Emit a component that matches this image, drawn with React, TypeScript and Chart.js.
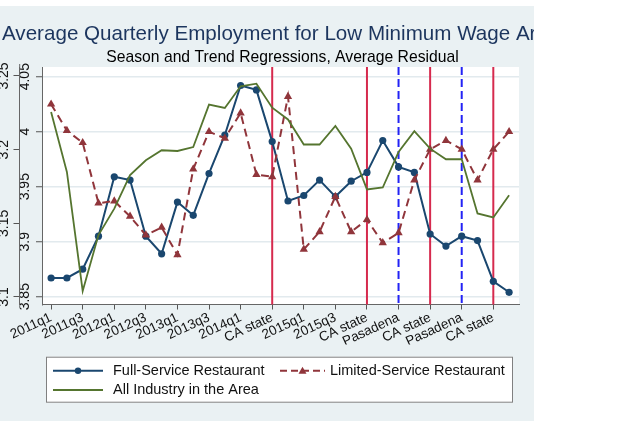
import React, { useEffect, useRef } from 'react';
import { Chart, registerables } from 'chart.js';

Chart.register(...registerables);

// ---------- data ----------
const quarters = [
  '2011q1', '2011q2', '2011q3', '2011q4',
  '2012q1', '2012q2', '2012q3', '2012q4',
  '2013q1', '2013q2', '2013q3', '2013q4',
  '2014q1', '2014q2', '2014q3', '2014q4',
  '2015q1', '2015q2', '2015q3', '2015q4',
  '2016q1', '2016q2', '2016q3', '2016q4',
  '2017q1', '2017q2', '2017q3', '2017q4',
  '2018q1', '2018q2',
];

const fullService = [
  3.867, 3.867, 3.875, 3.905, 3.959, 3.956, 3.905, 3.889, 3.936, 3.924,
  3.962, 3.997, 4.042, 4.038, 3.991, 3.937, 3.942, 3.956, 3.941, 3.955,
  3.963, 3.992, 3.968, 3.963, 3.907, 3.896, 3.905, 3.901, 3.864, 3.854,
];

const limitedService = [
  4.025, 4.001, 3.990, 3.935, 3.937, 3.923, 3.906, 3.913, 3.888, 3.966,
  4.000, 3.994, 4.017, 3.961, 3.959, 4.032, 3.893, 3.909, 3.941, 3.909,
  3.920, 3.899, 3.908, 3.956, 3.984, 3.992, 3.984, 3.956, 3.984, 4.000,
];

const allIndustry = [
  3.2256, 3.1849, 3.1041, 3.1420, 3.1600, 3.1827, 3.1928, 3.1996, 3.1991, 3.2018,
  3.2306, 3.2283, 3.2430, 3.2448, 3.2285, 3.2205, 3.2035, 3.2035, 3.2161, 3.2007,
  3.1730, 3.1743, 3.1984, 3.2125, 3.2007, 3.1935, 3.1935, 3.1567, 3.1540, 3.1691,
];

const xTickLabels = [
  '2011q1', '2011q3', '2012q1', '2012q3', '2013q1', '2013q3', '2014q1', 'CA state',
  '2015q1', '2015q3', 'CA state', 'Pasadena', 'CA state', 'Pasadena', 'CA state',
];

const innerTicks = [3.85, 3.9, 3.95, 4, 4.05];
const innerTickLabels = ['3.85', '3.9', '3.95', '4', '4.05'];
const outerTicks = [3.1, 3.15, 3.2, 3.25];
const outerTickLabels = ['3.1', '3.15', '3.2', '3.25'];

const caStateQuarters = ['2014q3', '2016q1', '2017q1', '2018q1'];
const pasadenaQuarters = ['2016q3', '2017q3'];

const seriesNames = [
  'Full-Service Restaurant',
  'Limited-Service Restaurant',
  'All Industry in the Area',
];

const titleText = 'Average Quarterly Employment for Low Minimum Wage Areas';
const subtitleText = 'Season and Trend Regressions, Average Residual';

// ---------- styles ----------
const FONT = '"Liberation Sans", Arial, Helvetica, sans-serif';
const C_FULL = '#1a476f';
const C_LIM = '#90353b';
const C_ALL = '#55752f';
const C_RED = '#d62a4e';
const C_BLUE = '#2323f5';
const BG = '#eaf1f3';

const decorPlugin = {
  id: 'decor',
  beforeDraw(chart: any) {
    const { ctx, chartArea: a } = chart;
    ctx.save();
    ctx.fillStyle = '#ffffff';
    ctx.fillRect(a.left, a.top, a.right - a.left, a.bottom - a.top);
    ctx.textAlign = 'left';
    ctx.textBaseline = 'alphabetic';
    ctx.fillStyle = '#1c355e';
    ctx.font = `20.6px ${FONT}`;
    ctx.fillText(titleText, 2, 33.5);
    ctx.fillStyle = '#000000';
    ctx.font = `15.7px ${FONT}`;
    ctx.textAlign = 'center';
    ctx.fillText(subtitleText, (a.left + a.right) / 2 + 2, 55.5);
    ctx.restore();
  },
  beforeDatasetsDraw(chart: any) {
    const { ctx, chartArea: a, scales } = chart;
    const xs = scales.x;
    ctx.save();
    ctx.lineWidth = 2;
    ctx.strokeStyle = C_RED;
    caStateQuarters.forEach((q) => {
      const px = xs.getPixelForValue(quarters.indexOf(q));
      ctx.beginPath();
      ctx.moveTo(px, a.top);
      ctx.lineTo(px, a.bottom);
      ctx.stroke();
    });
    ctx.strokeStyle = C_BLUE;
    ctx.setLineDash([8, 4]);
    pasadenaQuarters.forEach((q) => {
      const px = xs.getPixelForValue(quarters.indexOf(q));
      ctx.beginPath();
      ctx.moveTo(px, a.top);
      ctx.lineTo(px, a.bottom);
      ctx.stroke();
    });
    ctx.restore();
  },
  afterDraw(chart: any) {
    const { ctx } = chart;
    const bx = 46, by = 350.7, bw = 467, bh = 46;
    ctx.save();
    ctx.fillStyle = '#ffffff';
    ctx.fillRect(bx, by, bw, bh);
    ctx.strokeStyle = '#808080';
    ctx.lineWidth = 1;
    ctx.strokeRect(bx + 0.5, by + 0.5, bw - 1, bh - 1);
    const r1 = 364.7, r2 = 384;
    // full service sample
    ctx.strokeStyle = C_FULL;
    ctx.lineWidth = 2;
    ctx.beginPath();
    ctx.moveTo(53, r1);
    ctx.lineTo(103, r1);
    ctx.stroke();
    ctx.fillStyle = C_FULL;
    ctx.beginPath();
    ctx.arc(78, r1, 3.2, 0, Math.PI * 2);
    ctx.fill();
    // limited service sample
    ctx.strokeStyle = C_LIM;
    ctx.setLineDash([7, 4]);
    ctx.beginPath();
    ctx.moveTo(280, r1);
    ctx.lineTo(325, r1);
    ctx.stroke();
    ctx.setLineDash([]);
    ctx.fillStyle = C_LIM;
    ctx.beginPath();
    ctx.moveTo(302.5, r1 - 4);
    ctx.lineTo(306.5, r1 + 3);
    ctx.lineTo(298.5, r1 + 3);
    ctx.closePath();
    ctx.fill();
    // all industry sample
    ctx.strokeStyle = C_ALL;
    ctx.lineWidth = 1.8;
    ctx.beginPath();
    ctx.moveTo(53, r2);
    ctx.lineTo(103, r2);
    ctx.stroke();
    // texts
    ctx.fillStyle = '#111111';
    ctx.font = `14.5px ${FONT}`;
    ctx.textAlign = 'left';
    ctx.textBaseline = 'middle';
    ctx.fillText(seriesNames[0], 113, r1);
    ctx.fillText(seriesNames[1], 330, r1);
    ctx.fillText(seriesNames[2], 113, r2);
    ctx.restore();
  },
};

export default function App() {
  const canvasRef = useRef<HTMLCanvasElement | null>(null);

  useEffect(() => {
    if (!canvasRef.current) return;
    const chart = new Chart(canvasRef.current, {
      type: 'line',
      data: {
        datasets: [
          {
            label: seriesNames[0],
            data: fullService.map((v, i) => ({ x: i, y: v })),
            yAxisID: 'y',
            borderColor: C_FULL,
            backgroundColor: C_FULL,
            borderWidth: 2,
            pointStyle: 'circle',
            pointRadius: 3.6,
            pointBorderWidth: 0,
            tension: 0,
            order: 3,
          },
          {
            label: seriesNames[1],
            data: limitedService.map((v, i) => ({ x: i, y: v })),
            yAxisID: 'y',
            borderColor: C_LIM,
            backgroundColor: C_LIM,
            borderWidth: 2,
            borderDash: [8, 5],
            pointStyle: 'triangle',
            pointRadius: 4.8,
            pointBorderWidth: 0,
            tension: 0,
            order: 2,
          },
          {
            label: seriesNames[2],
            data: allIndustry.map((v, i) => ({ x: i, y: v })),
            yAxisID: 'y2',
            borderColor: C_ALL,
            backgroundColor: C_ALL,
            borderWidth: 1.8,
            pointRadius: 0,
            tension: 0,
            order: 1,
          },
        ],
      },
      options: {
        animation: false,
        responsive: false,
        maintainAspectRatio: false,
        layout: { padding: { top: 61, right: 15, bottom: 76.5, left: 0 } },
        plugins: {
          legend: { display: false },
          title: { display: false },
          tooltip: { enabled: false },
        },
        scales: {
          x: {
            type: 'linear',
            position: 'bottom',
            bounds: 'data',
            min: -0.576,
            max: 29.627,
            afterBuildTicks: (s: any) => {
              s.ticks = xTickLabels.map((_, k) => ({ value: k * 2 }));
            },
            ticks: {
              autoSkip: false,
              minRotation: 25,
              maxRotation: 25,
              padding: 0,
              color: '#111111',
              font: { family: FONT, size: 13.5 },
              callback: (_v: any, i: number) => xTickLabels[i],
            },
            grid: {
              drawOnChartArea: false,
              drawTicks: true,
              tickLength: 5,
              color: '#555555',
              tickColor: '#555555',
              lineWidth: 1,
            },
            border: { display: true, color: '#666666', width: 1 },
            afterFit: (s: any) => {
              s.height = 40;
            },
          },
          y: {
            type: 'linear',
            position: 'left',
            weight: 0,
            bounds: 'data',
            min: 3.8429,
            max: 4.0588,
            afterBuildTicks: (s: any) => {
              s.ticks = innerTicks.map((v) => ({ value: v }));
            },
            ticks: {
              minRotation: 90,
              maxRotation: 90,
              crossAlign: 'center',
              padding: -2.6,
              color: '#111111',
              font: { family: FONT, size: 14 },
              callback: (_v: any, i: number) => innerTickLabels[i],
            },
            grid: {
              color: '#e2eaee',
              lineWidth: 1.5,
              tickLength: 6,
              tickColor: '#555555',
              tickWidth: 1,
              drawTicks: true,
            },
            border: { display: true, color: '#666666', width: 1 },
            afterFit: (s: any) => {
              s.width = 22.5;
            },
          },
          y2: {
            type: 'linear',
            position: 'left',
            weight: 1,
            bounds: 'data',
            min: 3.0949,
            max: 3.2561,
            afterBuildTicks: (s: any) => {
              s.ticks = outerTicks.map((v) => ({ value: v }));
            },
            ticks: {
              minRotation: 90,
              maxRotation: 90,
              crossAlign: 'center',
              padding: -3.8,
              color: '#111111',
              font: { family: FONT, size: 14 },
              callback: (_v: any, i: number) => outerTickLabels[i],
            },
            grid: {
              drawOnChartArea: false,
              tickLength: 6,
              color: '#555555',
              tickColor: '#555555',
              tickWidth: 1,
              drawTicks: true,
            },
            border: { display: true, color: '#666666', width: 1 },
            afterFit: (s: any) => {
              s.width = 19.5;
            },
          },
        },
      } as any,
      plugins: [decorPlugin],
    });
    return () => chart.destroy();
  }, []);

  return (
    <div style={{ position: 'absolute', left: 0, top: 0, width: 624, height: 421, background: '#ffffff', overflow: 'hidden' }}>
      <div style={{ position: 'absolute', left: 0, top: 6, width: 534, height: 415, background: BG }}>
        <canvas ref={canvasRef} width={534} height={415} style={{ display: 'block', width: 534, height: 415 }} />
      </div>
    </div>
  );
}
